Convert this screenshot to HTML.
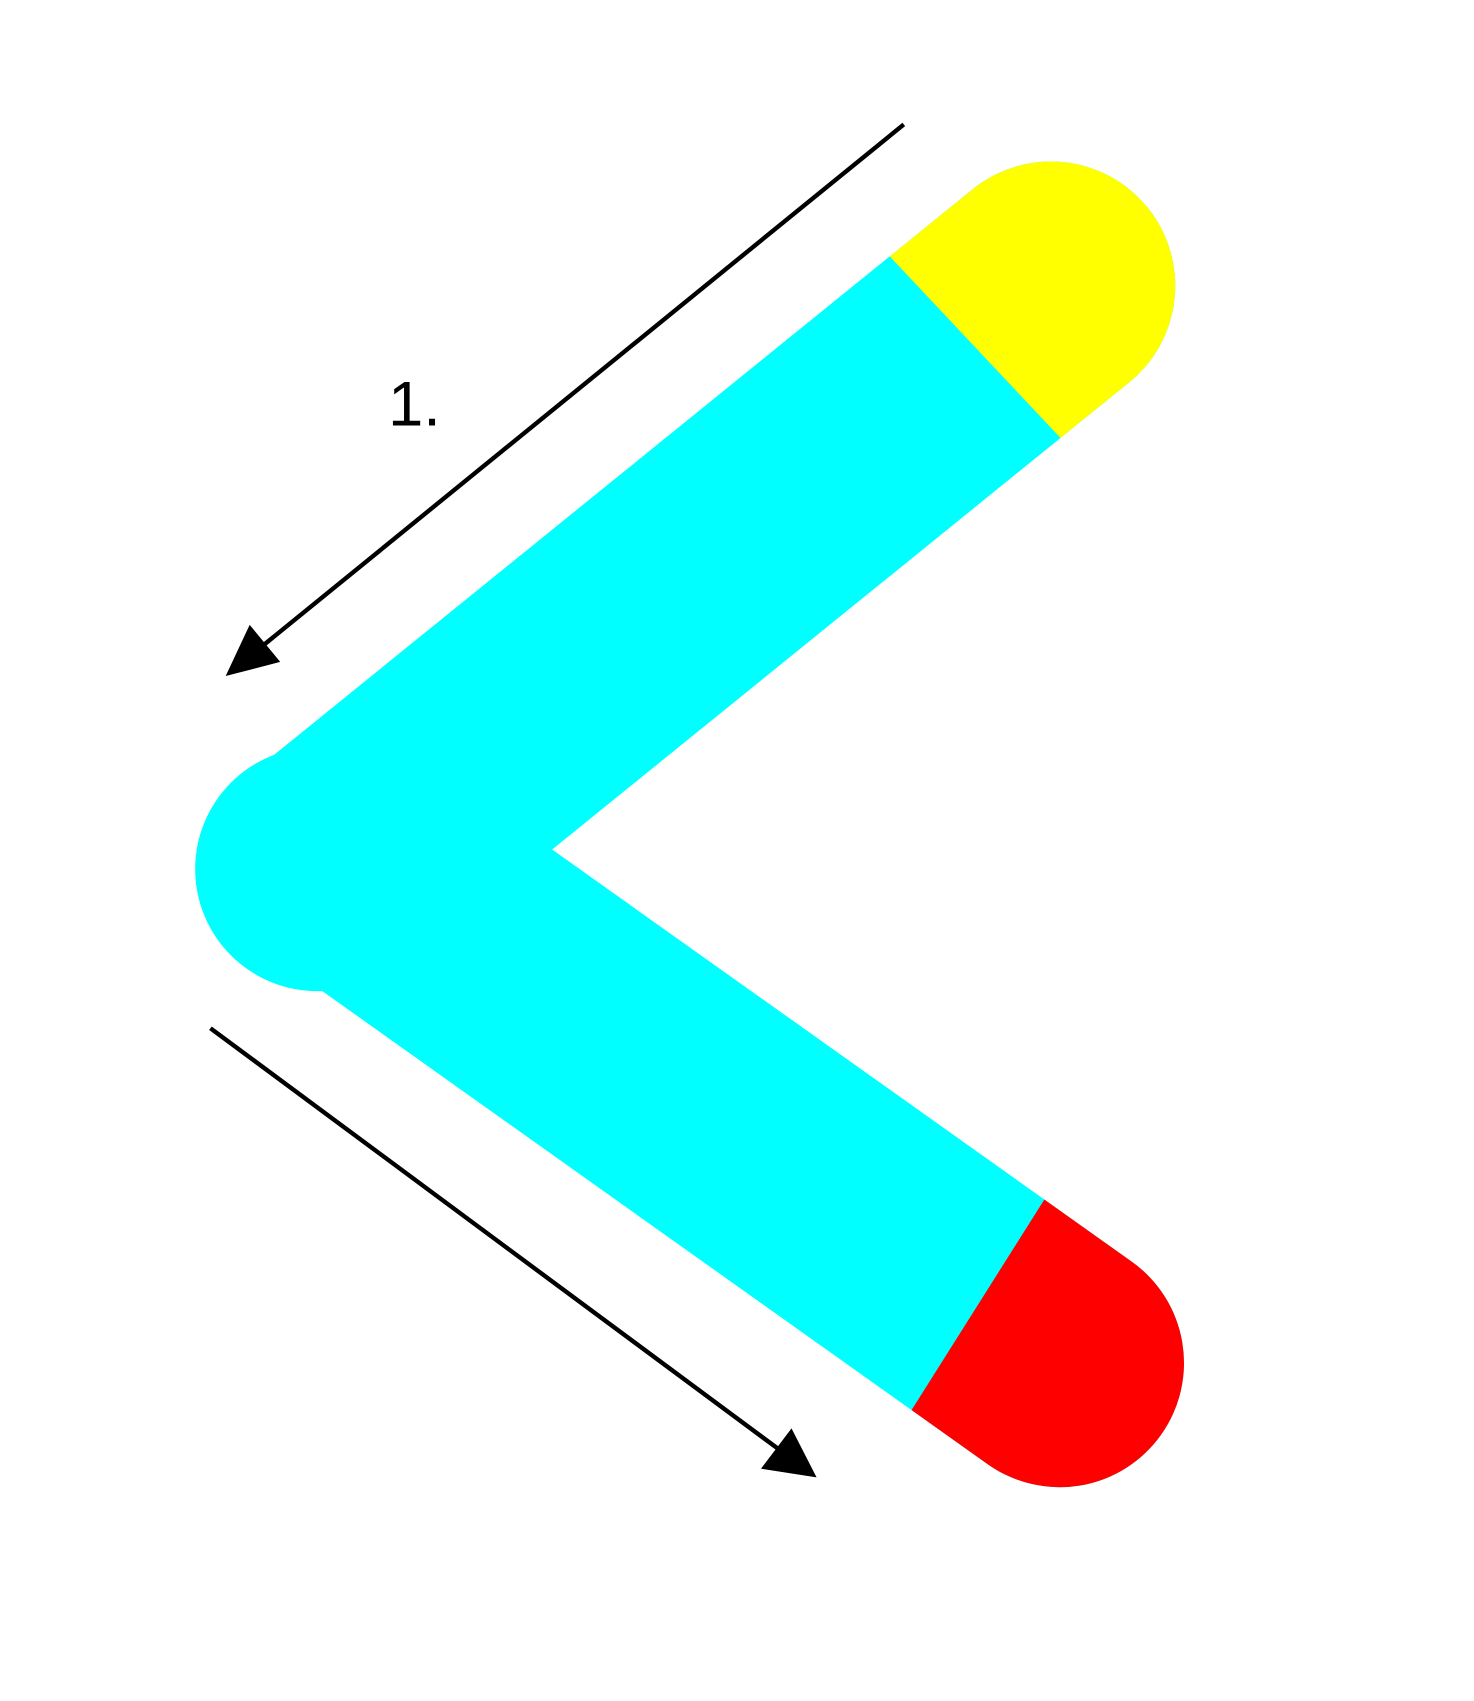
<!DOCTYPE html>
<html><head><meta charset="utf-8"><style>html,body{margin:0;padding:0;background:#fff;}svg{display:block;}</style></head>
<body>
<svg id="chart" width="1474" height="1701" viewBox="0 0 1352 1560" xmlns="http://www.w3.org/2000/svg">
<defs>
<clipPath id="clipY"><polygon points="501,-100 1291,740 1500,740 1500,-100"/></clipPath>
<clipPath id="clipR"><polygon points="1204,710 712,1490 1500,1600 1500,710"/></clipPath>
</defs>
<g id="g"></g>
<text x="356" y="390" font-family="'Liberation Sans', sans-serif" font-size="58" fill="#000">1.</text>
</svg>
<script>
const pathX = [964, 318, 972];
const pathY = [262, 785, 1250];
const bandWidth = 228;
const g = document.getElementById('g');
const NS = 'http://www.w3.org/2000/svg';
function mk(tag, attrs){const e=document.createElementNS(NS,tag);for(const k in attrs)e.setAttribute(k,attrs[k]);g.appendChild(e);return e;}
const pts = pathX.map((x,i)=>x+','+pathY[i]).join(' ');
const corner = mk('circle',{cx:291,cy:797,r:112,fill:'#00ffff'});


const band = mk('polyline',{points:pts,fill:'none',stroke:'#00ffff','stroke-width':bandWidth,'stroke-linecap':'round','stroke-linejoin':'round'});


const y = mk('polyline',{points:pts,fill:'none',stroke:'#ffff00','stroke-width':bandWidth,'stroke-linecap':'round','stroke-linejoin':'round','clip-path':'url(#clipY)'});


const r = mk('polyline',{points:pts,fill:'none',stroke:'#ff0000','stroke-width':bandWidth,'stroke-linecap':'round','stroke-linejoin':'round','clip-path':'url(#clipR)'});


const a1 = mk('line',{x1:829,y1:114,x2:240,y2:593,stroke:'#000','stroke-width':4});


const h1 = mk('polygon',{points:'207,620 229,573 257,607',fill:'#000'});


const a2 = mk('line',{x1:193,y1:943,x2:714,y2:1329,stroke:'#000','stroke-width':4});


const h2 = mk('polygon',{points:'749,1355 726,1310 698,1347',fill:'#000'});


</script>
</body></html>
